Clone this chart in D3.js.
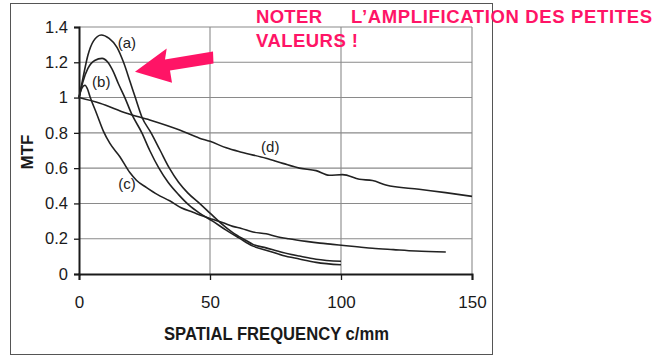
<!DOCTYPE html>
<html>
<head>
<meta charset="utf-8">
<script src="https://cdn.jsdelivr.net/npm/d3@7"></script>
<style>
  html, body { margin: 0; padding: 0; background: #fff; }
  svg { display: block; }
</style>
</head>
<body>
<svg id="chart" width="667" height="357"></svg>
<script>
// MTF curves: [spatial frequency (c/mm), MTF]
const curveA = [[0,1.0],[1.5,1.11],[3.4,1.24],[5.5,1.32],[8.5,1.355],[11.5,1.335],[14.5,1.285],[17,1.2],[19.5,1.09],[21.5,1.0],[24,0.89],[27.5,0.8],[31,0.7],[34.5,0.6],[38,0.52],[41.5,0.46],[46,0.4],[50,0.345],[54,0.29],[58.7,0.235],[63.8,0.19],[66.4,0.168],[71.4,0.148],[77.8,0.122],[84.1,0.102],[90.5,0.084],[100,0.072]];
const curveB = [[0,1.0],[1.5,1.09],[3.4,1.165],[6,1.21],[8.8,1.222],[11,1.2],[13,1.15],[15,1.08],[17.5,1.0],[20,0.91],[24,0.8],[27,0.7],[30.5,0.6],[34,0.52],[38,0.45],[42,0.39],[46,0.345],[51,0.3],[56,0.25],[61,0.205],[66.4,0.158],[71.4,0.135],[77.8,0.105],[84.1,0.085],[90.5,0.066],[100,0.052]];
const curveC = [[0,1.0],[1,1.05],[2.3,1.07],[3.2,1.05],[4.2,1.005],[6.7,0.91],[9.3,0.81],[11.8,0.74],[15.6,0.665],[19.4,0.575],[22,0.53],[25.8,0.49],[30,0.45],[34.6,0.415],[39,0.375],[43.5,0.35],[47,0.33],[51,0.31],[55,0.29],[58.7,0.27],[62,0.258],[66.4,0.238],[71.4,0.228],[75.3,0.213],[80,0.2],[86.7,0.185],[92,0.175],[96.8,0.168],[102,0.16],[107,0.153],[112,0.146],[120,0.138],[128.6,0.13],[140,0.125]];
const curveD = [[0,1.0],[8,0.968],[18.2,0.911],[27,0.873],[38.4,0.816],[46,0.77],[50,0.752],[56.2,0.715],[62,0.69],[71.4,0.656],[77.8,0.627],[84.1,0.6],[90.5,0.586],[95.5,0.56],[100.6,0.563],[107,0.537],[112,0.53],[117.1,0.505],[129.8,0.48],[139.9,0.461],[150,0.44]];

const seriesNames = ["(a)", "(b)", "(c)", "(d)"];
// where each curve's letter sits: [frequency, MTF]
const labelAnchors = [[18.3,1.31],[8.5,1.09],[18.3,0.51],[73,0.72]];

const xTicks = [0, 50, 100, 150];
const yTicks = [0, 0.2, 0.4, 0.6, 0.8, 1.0, 1.2, 1.4];
const yTickLabels = ["0", "0.2", "0.4", "0.6", "0.8", "1", "1.2", "1.4"];

const xTitle = "SPATIAL FREQUENCY c/mm";
const yTitle = "MTF";
const noteLine1a = "NOTER";
const noteLine1b = "L\u2019AMPLIFICATION DES PETITES";
const noteLine2 = "VALEURS !";

const svg = d3.select("#chart");

const x = d3.scaleLinear().domain([0, 150]).range([79, 472]);
const y = d3.scaleLinear().domain([0, 1.4]).range([274, 27]);

// outer frame of the figure
svg.append("rect")
  .attr("x", 10.5).attr("y", 3.5)
  .attr("width", 482).attr("height", 351)
  .attr("fill", "none").attr("stroke", "#555").attr("stroke-width", 1);

// grid
const grid = svg.append("g").attr("stroke", "#8a8a8a").attr("stroke-width", 1.1);
grid.selectAll("line.h").data(yTicks.filter(v => v > 0)).join("line")
  .attr("class", "h")
  .attr("x1", x(0)).attr("x2", x(150))
  .attr("y1", d => y(d)).attr("y2", d => y(d));
grid.selectAll("line.v").data(xTicks.filter(v => v > 0)).join("line")
  .attr("class", "v")
  .attr("x1", d => x(d)).attr("x2", d => x(d))
  .attr("y1", y(0)).attr("y2", y(1.4));

// axes
const yAxis = d3.axisLeft(y).tickValues(yTicks)
  .tickFormat((d, i) => yTickLabels[i]).tickSize(5).tickPadding(6);
const xAxis = d3.axisBottom(x).tickValues(xTicks).tickSize(6).tickPadding(16);

const gy = svg.append("g").attr("transform", `translate(${x(0)},0)`).call(yAxis);
const gx = svg.append("g").attr("transform", `translate(0,${y(0)})`).call(xAxis);

[gx, gy].forEach(g => {
  g.select(".domain").attr("stroke", "#1a1a1a").attr("stroke-width", 2);
  g.selectAll(".tick line").attr("stroke", "#1a1a1a").attr("stroke-width", 1.3);
  g.selectAll(".tick text")
    .attr("fill", "#1a1a1a")
    .attr("font-family", "Liberation Sans, Arial, sans-serif");
});
gy.selectAll(".tick text").attr("font-size", 16.5);
gx.selectAll(".tick text").attr("font-size", 17);

// curves
const line = d3.line()
  .x(d => x(d[0])).y(d => y(d[1]))
  .curve(d3.curveMonotoneX);

svg.append("g")
  .attr("fill", "none").attr("stroke", "#222").attr("stroke-width", 1.6)
  .attr("stroke-linejoin", "round")
  .selectAll("path").data([curveA, curveB, curveC, curveD]).join("path")
  .attr("d", line);

// curve letters
svg.append("g")
  .attr("font-family", "Liberation Sans, Arial, sans-serif")
  .attr("font-size", 15).attr("fill", "#222").attr("text-anchor", "middle")
  .selectAll("text").data(seriesNames).join("text")
  .attr("x", (d, i) => x(labelAnchors[i][0]))
  .attr("y", (d, i) => y(labelAnchors[i][1]))
  .attr("dy", "0.35em")
  .text(d => d);

// axis titles
svg.append("text")
  .attr("x", 276.5).attr("y", 340)
  .attr("text-anchor", "middle")
  .attr("font-family", "Liberation Sans, Arial, sans-serif")
  .attr("font-weight", "bold").attr("font-size", 17.5).attr("fill", "#1a1a1a")
  .attr("textLength", 225).attr("lengthAdjust", "spacingAndGlyphs")
  .text(xTitle);

svg.append("text")
  .attr("transform", "translate(33,152) rotate(-90)")
  .attr("text-anchor", "middle")
  .attr("font-family", "Liberation Sans, Arial, sans-serif")
  .attr("font-weight", "bold").attr("font-size", 17).attr("fill", "#1a1a1a")
  .text(yTitle);

// pink note and arrow
const pink = "#ff1466";
svg.append("polygon")
  .attr("points", [[135,71.7],[166.7,48.5],[165,59.5],[213,51.5],[213.5,63.5],[170,70.5],[172,82.7]].map(p => p.join(",")).join(" "))
  .attr("fill", pink);

const note = svg.append("g")
  .attr("font-family", "Liberation Sans, Arial, sans-serif")
  .attr("font-weight", "bold").attr("font-size", 18.5).attr("fill", pink);
note.append("text").attr("x", 256).attr("y", 22.7)
  .attr("textLength", 66).attr("lengthAdjust", "spacing").text(noteLine1a);
note.append("text").attr("x", 351).attr("y", 22.7)
  .attr("textLength", 301).attr("lengthAdjust", "spacing").text(noteLine1b);
note.append("text").attr("x", 256).attr("y", 46.7)
  .attr("textLength", 102).attr("lengthAdjust", "spacing").text(noteLine2);
</script>
</body>
</html>
